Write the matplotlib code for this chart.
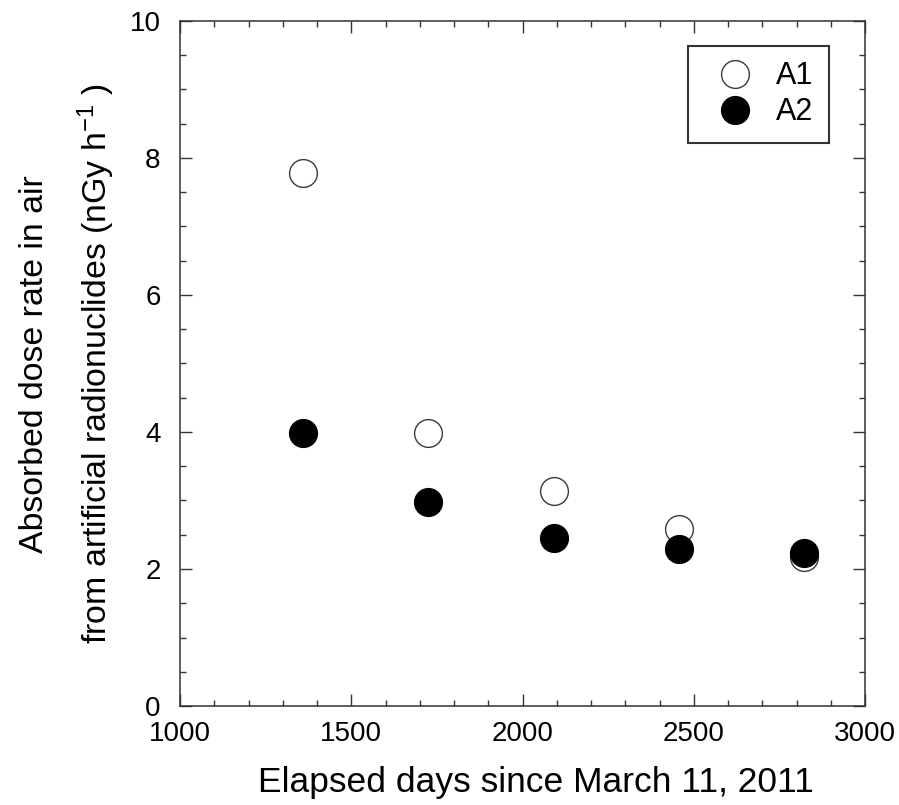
import matplotlib
matplotlib.use("Agg")
import matplotlib.pyplot as plt
from matplotlib.ticker import MultipleLocator

plt.rcParams['font.family'] = ['Liberation Sans', 'DejaVu Sans']
plt.rcParams['mathtext.fontset'] = 'custom'
plt.rcParams['mathtext.rm'] = 'Liberation Sans'
plt.rcParams['mathtext.it'] = 'Liberation Sans'

# Elapsed days and absorbed dose rates (nGy/h) for the two sites
days = [1360, 1725, 2093, 2457, 2822]
a1_rate = [7.78, 3.99, 3.14, 2.59, 2.18]
a2_rate = [3.99, 2.98, 2.45, 2.29, 2.23]
series_names = ["A1", "A2"]

fig = plt.figure(figsize=(8.99, 8.05), dpi=100)
ax = fig.add_axes([180 / 899, 1 - 706 / 805, 685 / 899, 685 / 805])

ax.plot(days, a1_rate, linestyle='none', marker='o', markersize=20,
        markerfacecolor='white', markeredgecolor='#3a3a3a',
        markeredgewidth=1.0, label=series_names[0], zorder=3)
ax.plot(days, a2_rate, linestyle='none', marker='o', markersize=20,
        markerfacecolor='black', markeredgecolor='black',
        markeredgewidth=1.0, label=series_names[1], zorder=4)

ax.set_xlim(1000, 3000)
ax.set_ylim(0, 10)
ax.xaxis.set_major_locator(MultipleLocator(500))
ax.xaxis.set_minor_locator(MultipleLocator(100))
ax.yaxis.set_major_locator(MultipleLocator(2))
ax.yaxis.set_minor_locator(MultipleLocator(0.5))

for s in ax.spines.values():
    s.set_color('#333333')
    s.set_linewidth(1.1)

ax.tick_params(which='both', direction='in', top=True, right=True,
               color='#333333', width=1.0, labelsize=20)
ax.tick_params(which='major', length=8.5)
ax.tick_params(which='minor', length=4.3)
ax.tick_params(axis='y', which='major', pad=14)
ax.tick_params(axis='x', which='major', pad=11)

fig.text(536 / 899, 1 - 792 / 805, "Elapsed days since March 11, 2011",
         fontsize=25.5, ha='center', va='baseline')
fig.text(43 / 899, 1 - 364 / 805, "Absorbed dose rate in air",
         fontsize=24.4, rotation=90, rotation_mode='anchor',
         ha='center', va='baseline')
fig.text(107 / 899, 1 - 364 / 805,
         r"from artificial radionuclides (nGy h$^{-1}$ )",
         fontsize=24.4, rotation=90, rotation_mode='anchor',
         ha='center', va='baseline')

leg = ax.legend(loc='upper right', bbox_to_anchor=((829 - 180) / 685, (706 - 46) / 685),
                borderaxespad=0, fontsize=22, frameon=True, fancybox=False,
                handletextpad=0.3, borderpad=0.5, labelspacing=0.2,
                handlelength=2.1)
leg.get_frame().set_edgecolor('black')
leg.get_frame().set_linewidth(1.5)

fig.savefig("out.png", dpi=100)
